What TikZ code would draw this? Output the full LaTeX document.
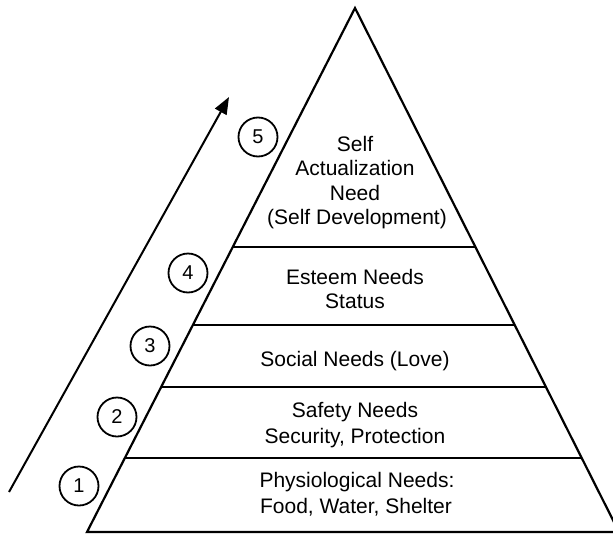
\documentclass[tikz,border=0pt]{standalone}
\usepackage{fontspec}
\setmainfont{Liberation Sans}
\usetikzlibrary{arrows.meta,calc}
\begin{document}
\begin{tikzpicture}[x=1pt,y=-1pt,
  edge/.style={line width=2.2pt,line join=miter},
  lbl/.style={anchor=base,inner sep=0pt,font=\fontsize{21}{24}\selectfont},
  num/.style={draw,circle,line width=1.8pt,minimum size=39pt,inner sep=0pt,font=\fontsize{20}{22}\selectfont}]
\useasboundingbox (0,0) rectangle (613,533);
\clip (0,0) rectangle (613,533);
\coordinate (apex) at (355,8);
\coordinate (bl) at (87,532);
\coordinate (br) at (619,532);
\draw[edge] (bl) -- (apex) -- (br) -- cycle;
\foreach \t/\n in {0.4561/a,0.6050/b,0.7233/c,0.8588/d}{
  \coordinate (l\n) at ($(apex)!\t!(bl)$);
  \coordinate (r\n) at ($(apex)!\t!(br)$);
  \draw[edge] (l\n) -- (r\n);
}
% labels
\node[lbl] (t1) at (355,151) {Self};
\node[lbl] (t2) at (355,175) {Actualization};
\node[lbl] (t3) at (355,200) {Need};
\node[lbl] (t4) at (357,224) {(Self Development)};
\node[lbl] (e1) at (355,284) {Esteem Needs};
\node[lbl] (e2) at (355,308) {Status};
\node[lbl] (s1) at (355,366) {Social Needs (Love)};
\node[lbl] (f1) at (355,417) {Safety Needs};
\node[lbl] (f2) at (355,443) {Security, Protection};
\node[lbl] (p1) at (357,487) {Physiological Needs:};
\node[lbl] (p2) at (356,513) {Food, Water, Shelter};
% numbers
\node[num] (n1) at (79,486) {1};
\node[num] (n2) at (117,417) {2};
\node[num] (n3) at (150,346) {3};
\node[num] (n4) at (188,273) {4};
\node[num] (n5) at (258,137) {5};
% arrow
\coordinate (as) at (9,492);
\coordinate (ae) at (229,97);
\draw[line width=2pt,-{Triangle[length=17pt,width=13pt]}] (as) -- (ae);
\end{tikzpicture}
\end{document}
